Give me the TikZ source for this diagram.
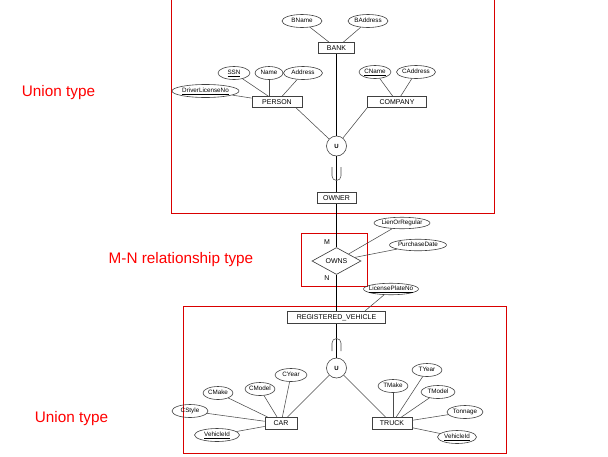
\documentclass[tikz,border=0pt]{standalone}
\usepackage{fontspec}
\setmainfont{Liberation Sans}
\usetikzlibrary{shapes.geometric}

\tikzset{
  entity/.style={draw=black!75, line width=0.65pt, rectangle, minimum width=#1,
    minimum height=11pt, inner xsep=-4pt, inner ysep=0pt,
    font=\fontsize{7}{8}\selectfont},
  attr/.style={draw=black!75, line width=0.6pt, ellipse, minimum width=#1,
    minimum height=13pt, inner xsep=-4pt, inner ysep=0pt,
    text height=4.6pt, text depth=1.2pt, font=\fontsize{6.3}{7}\selectfont},
  unionnode/.style={draw=black!75, line width=0.6pt, circle, minimum size=20pt,
    inner sep=0pt, font=\fontsize{6}{7}\selectfont\bfseries},
  link/.style={draw=black!70, line width=0.55pt},
  trunk/.style={draw=black, line width=0.8pt},
  groupbox/.style={draw=red!85!black, line width=0.8pt},
  grouplabel/.style={text=red, font=\fontsize{15.3}{18}\selectfont},
}

\begin{document}
\begin{tikzpicture}[x=1pt, y=-1pt]
  \useasboundingbox (0,0) rectangle (608,456);

  %% --- 上：OWNER の union type ---
  \draw[groupbox] (171,-5) rectangle (494,213);
  \node[grouplabel] (lblownerunion) at (58.5,93) {Union type};

  \node[entity=36pt] (bank) at (336.5,48) {BANK};
  \node[attr=40pt] (bname) at (302,21) {BName};
  \node[attr=40pt] (baddress) at (368,21) {BAddress};

  \node[entity=50pt] (person) at (277,102) {PERSON};
  \node[attr=32pt] (ssn) at (234,73) {\underline{SSN}};
  \node[attr=28pt] (pname) at (269,73) {Name};
  \node[attr=39pt] (paddress) at (303,73) {Address};
  \node[attr=67pt] (dlicense) at (205.5,91) {\underline{DriverLicenseNo}};

  \node[entity=59pt] (company) at (397,102) {COMPANY};
  \node[attr=32pt] (cname) at (375,72) {\underline{CName}};
  \node[attr=39pt] (caddress) at (416,72) {CAddress};

  \node[unionnode] (uowner) at (336.5,146) {U};
  \node[entity=39pt] (owner) at (336.5,198) {OWNER};

  %% 属性の線
  \draw[link] (bname) -- (bank);
  \draw[link] (baddress) -- (bank);
  \draw[link] (ssn) -- (person);
  \draw[link] (pname) -- (pname |- person.north);
  \draw[link] (paddress) -- (person);
  \draw[link] (dlicense) -- (person);
  \draw[link] (cname) -- (company);
  \draw[link] (caddress) -- (company);
  \draw[link] (person.-17) -- (uowner);
  \draw[link] (company.-169) -- (uowner);

  %% --- 中：M-N relationship ---
  \draw[groupbox] (301,233) rectangle (367,286);
  \node[grouplabel] (lblowns) at (181,260) {M-N relationship type};

  \node[draw=black!75, line width=0.65pt, diamond, minimum width=49pt,
    minimum height=27pt, inner sep=0pt, font=\fontsize{7}{8}\selectfont]
    (owns) at (336.5,261) {OWNS};
  \node[font=\fontsize{7}{8}\selectfont] (mcard) at (327,242) {M};
  \node[font=\fontsize{7}{8}\selectfont] (ncard) at (327,278) {N};
  \node[attr=56pt, minimum height=11.5pt] (lien) at (402,223) {LienOrRegular};
  \node[attr=57pt, minimum height=11.5pt] (pdate) at (418,245) {PurchaseDate};
  \draw[link] (owns) -- (lien);
  \draw[link] (owns) -- (pdate);

  %% --- 下：REGISTERED_VEHICLE の union type ---
  \draw[groupbox] (183,306) rectangle (506,453);
  \node[grouplabel] (lblvehicleunion) at (71.5,419) {Union type};

  \node[entity=98pt, minimum height=12.5pt] (regvehicle) at (336.5,317.5) {REGISTERED\_VEHICLE};
  \node[attr=55pt, minimum height=11.5pt] (plateno) at (391,289) {\underline{LicensePlateNo}};
  \draw[link] (plateno) -- (regvehicle.13);

  \node[unionnode] (uvehicle) at (336.5,368) {U};

  \node[entity=32pt, minimum height=12.5pt] (car) at (281,423.5) {CAR};
  \node[attr=32pt] (cyear) at (291,375) {CYear};
  \node[attr=30pt] (cmodel) at (260,389) {CModel};
  \node[attr=30pt] (cmake) at (218,393) {CMake};
  \node[attr=36pt] (cstyle) at (190,411) {CStyle};
  \node[attr=45pt] (cvehicleid) at (217,435) {\underline{VehicleId}};

  \node[entity=40pt, minimum height=12.5pt] (truck) at (392,423.5) {TRUCK};
  \node[attr=30pt] (tmake) at (393,386) {TMake};
  \node[attr=30pt] (tyear) at (427,370) {TYear};
  \node[attr=34pt] (tmodel) at (438,392) {TModel};
  \node[attr=36pt] (tonnage) at (465,412) {Tonnage};
  \node[attr=39pt] (tvehicleid) at (457,437) {\underline{VehicleId}};

  \foreach \a in {cyear, cmodel, cmake, cstyle, cvehicleid}
    \draw[link] (\a) -- (car);
  \draw[link] (tmake) -- (tmake |- truck.north);
  \foreach \a in {tyear, tmodel, tonnage, tvehicleid}
    \draw[link] (\a) -- (truck);
  \draw[link] (car) -- (uvehicle);
  \draw[link] (truck) -- (uvehicle);

  %% --- 縦の幹線と部分集合記号 ---
  \draw[trunk] (bank) -- (uowner) -- (owner) -- (owns) -- (regvehicle) -- (uvehicle);
  \draw[link] (332,167) -- (332,176) arc[start angle=180, end angle=360, radius=4.5pt] -- (341,167);
  \draw[link] (332,351) -- (332,343) arc[start angle=180, end angle=0, radius=4.5pt] -- (341,351);
\end{tikzpicture}
\end{document}
